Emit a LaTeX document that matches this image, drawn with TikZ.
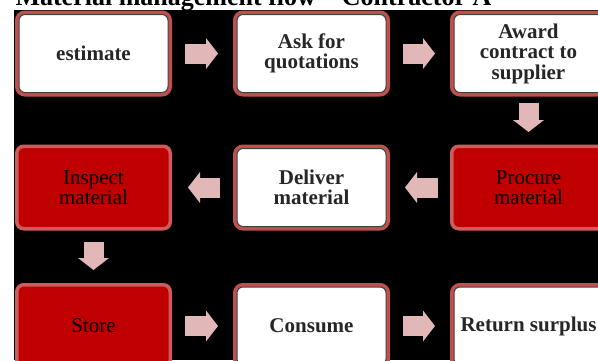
\documentclass[tikz,border=0pt]{standalone}
\usepackage{fontspec}
\setmainfont{Liberation Serif}
\usetikzlibrary{arrows.meta}
\definecolor{boxred}{RGB}{192,80,77}
\definecolor{darkred}{RGB}{192,0,0}
\definecolor{rimred}{RGB}{205,92,92}
\definecolor{arrowpink}{RGB}{226,183,183}

\begin{document}
\begin{tikzpicture}[x=1pt,y=1pt,
  whitebox/.style={rectangle,rounded corners=6pt,fill=white,draw=black!75,line width=1pt,
    preaction={draw=boxred,line width=8pt},
    minimum width=149pt,minimum height=78pt,outer sep=4pt,inner sep=2pt,align=center,
    font=\fontsize{21}{20.5}\selectfont\bfseries,text=black!85},
  redbox/.style={rectangle,rounded corners=7pt,fill=darkred,draw=rimred,line width=3.5pt,
    minimum width=153.5pt,minimum height=82.5pt,outer sep=1.75pt,inner sep=2pt,align=center,
    font=\fontsize{21}{20.5}\selectfont,text=black},
  flow/.style={arrowpink,line width=20pt,-{Triangle[length=12pt,width=31pt,line width=0pt]}}]
\useasboundingbox (0,0) rectangle (598,360);
\clip (0,0) rectangle (598,360);
\fill[black] (14,0) rectangle (598,350);
\node[anchor=base west,font=\fontsize{26}{28}\selectfont\bfseries] (title) at (12,355) {Material management flow – Contractor A};
\node[whitebox] (est) at (93.5,306.5) {estimate};
\node[whitebox] (ask) at (311.5,306.5) {Ask for\\quotations};
\node[whitebox] (award) at (528.5,306.5) {Award\\contract to\\supplier};
\node[redbox] (inspect) at (93.5,172.5) {Inspect\\material};
\node[whitebox] (deliver) at (311.5,172.5) {Deliver\\material};
\node[redbox] (procure) at (528.5,172.5) {Procure\\material};
\node[redbox] (store) at (93.5,34) {Store};
\node[whitebox] (consume) at (311.5,34) {Consume};
\node[whitebox] (surplus) at (528.5,34) {Return surplus};
\draw[flow,shorten <=13pt,shorten >=15pt] (est) -- (ask);
\draw[flow,shorten <=13pt,shorten >=15pt] (ask) -- (award);
\draw[flow,shorten <=6.5pt,shorten >=12.5pt] (award) -- (procure);
\draw[flow,shorten <=12pt,shorten >=15pt] (procure) -- (deliver);
\draw[flow,shorten <=13pt,shorten >=16pt] (deliver) -- (inspect);
\draw[flow,shorten <=11.5pt,shorten >=13pt] (inspect) -- (store);
\draw[flow,shorten <=13pt,shorten >=15pt] (store) -- (consume);
\draw[flow,shorten <=13pt,shorten >=15pt] (consume) -- (surplus);
\end{tikzpicture}
\end{document}
